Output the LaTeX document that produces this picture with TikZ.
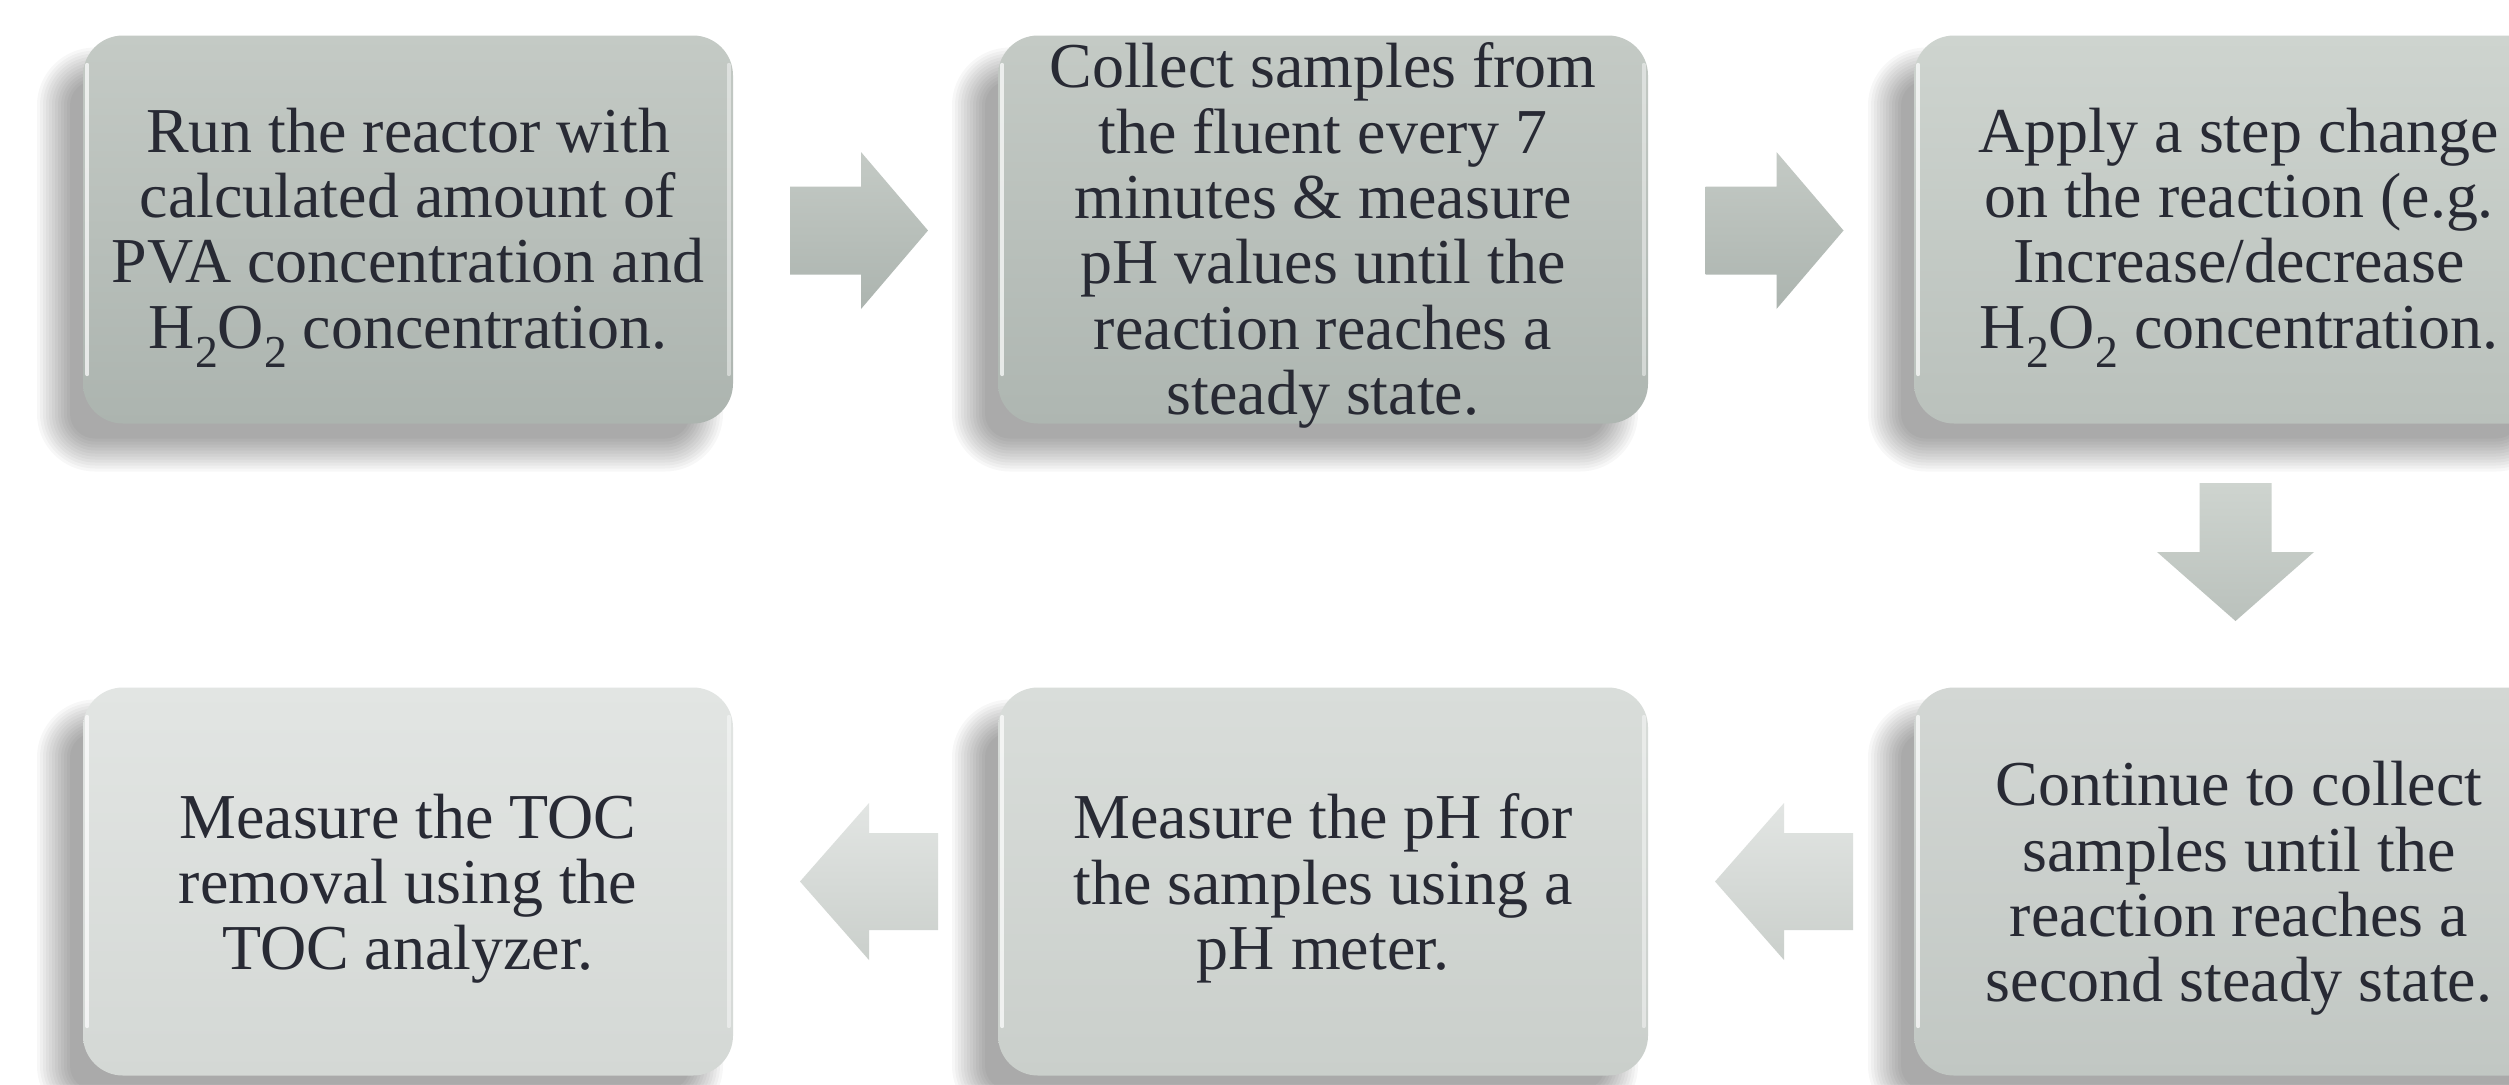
\documentclass[tikz,border=0pt]{standalone}
\usepackage{fontspec}
\setmainfont{Liberation Serif}

\definecolor{ink}{RGB}{40,42,52}
\definecolor{aT}{RGB}{196,202,197}\definecolor{aB}{RGB}{172,180,175}
\definecolor{bT}{RGB}{196,202,197}\definecolor{bB}{RGB}{174,182,177}
\definecolor{cT}{RGB}{206,212,207}\definecolor{cB}{RGB}{186,193,188}
\definecolor{dT}{RGB}{226,229,227}\definecolor{dB}{RGB}{212,216,213}
\definecolor{eT}{RGB}{217,221,218}\definecolor{eB}{RGB}{202,207,203}
\definecolor{fT}{RGB}{211,215,212}\definecolor{fB}{RGB}{193,199,195}

% chemical subscript, set large and low
\newcommand{\chsub}[1]{\raisebox{-0.3em}{\fontsize{13}{13}\selectfont #1}}

\tikzset{
  stepbox/.style n args={2}{
    rounded corners=0.4cm, minimum width=6.5cm, minimum height=3.88cm,
    inner sep=0pt, top color=#1, bottom color=#2},
  steptext/.style={align=center, text=ink, inner sep=0pt,
    font=\fontsize{18.2}{18.6}\selectfont},
  softshadow/.style={black, fill opacity=0.03},
  bevel/.style={white, line width=1.1pt, opacity=0.7, line cap=round},
  blockarrow/.style n args={2}{top color=#1, bottom color=#2, draw=none},
}

\begin{document}
\begin{tikzpicture}
\clip (0,0) rectangle (25.09,10.84);
\fill[white] (0,0) rectangle (25.09,10.84);

% box centres
\coordinate (c1) at (4.08,8.545);
\coordinate (c2) at (13.23,8.545);
\coordinate (c3) at (22.39,8.545);
\coordinate (c4) at (4.08,2.025);
\coordinate (c5) at (13.23,2.025);
\coordinate (c6) at (22.39,2.025);

% soft drop shadows, built from stacked translucent layers
\foreach \c in {c1,c2,c3,c4,c5,c6}{
  \foreach \k in {0,...,11}{
    \pgfmathsetmacro\r{0.18-0.03*\k}
    \pgfmathsetmacro\rc{0.4+\r}
    \fill[softshadow, rounded corners=\rc cm]
      ([shift={(-0.28-3.25-\r,-0.3-1.94-\r)}]\c) rectangle
      ([shift={(-0.28+3.25+\r,-0.3+1.94+\r)}]\c);
  }
}

% process step boxes
\node[stepbox={aT}{aB}] (b1) at (c1) {};
\node[stepbox={bT}{bB}] (b2) at (c2) {};
\node[stepbox={cT}{cB}] (b3) at (c3) {};
\node[stepbox={dT}{dB}] (b4) at (c4) {};
\node[stepbox={eT}{eB}] (b5) at (c5) {};
\node[stepbox={fT}{fB}] (b6) at (c6) {};

% light bevel along the side edges
\foreach \n in {b1,b2,b3,b4,b5,b6}{
  \draw[bevel] ([xshift=0.05cm,yshift=-0.3cm]\n.north west) -- ([xshift=0.05cm,yshift=0.5cm]\n.south west);
  \draw[bevel, opacity=0.45] ([xshift=-0.05cm,yshift=-0.3cm]\n.north east) -- ([xshift=-0.05cm,yshift=0.5cm]\n.south east);
}

% step texts
\node[steptext] (t1) at ([yshift=-0.08cm]b1.center)
  {Run the reactor with\\calculated amount of\\PVA concentration and\\H\chsub{2}O\chsub{2} concentration.};
\node[steptext] (t2) at ([yshift=-0.06cm]b2.center)
  {Collect samples from\\the fluent every 7\\minutes \& measure\\pH values until the\\reaction reaches a\\steady state.};
\node[steptext] (t3) at ([yshift=-0.08cm]b3.center)
  {Apply a step change\\on the reaction (e.g.\\Increase/decrease\\H\chsub{2}O\chsub{2} concentration.};
\node[steptext] (t6) at ([yshift=-0.07cm]b6.center)
  {Continue to collect\\samples until the\\reaction reaches a\\second steady state.};
\node[steptext] (t5) at ([yshift=-0.07cm]b5.center)
  {Measure the pH for\\the samples using a\\pH meter.};
\node[steptext] (t4) at ([yshift=-0.07cm]b4.center)
  {Measure the TOC\\removal using the\\TOC analyzer.};

% block arrows between the steps
\path[blockarrow={aT}{aB}, shift={(8.59,8.535)}]
  (-0.69,0.44) -- (0.02,0.44) -- (0.02,0.785) -- (0.69,0) -- (0.02,-0.785) -- (0.02,-0.44) -- (-0.69,-0.44) -- cycle;
\path[blockarrow={aT}{aB}, shift={(17.745,8.535)}]
  (-0.69,0.44) -- (0.02,0.44) -- (0.02,0.785) -- (0.69,0) -- (0.02,-0.785) -- (0.02,-0.44) -- (-0.69,-0.44) -- cycle;
\path[blockarrow={cT}{cB}, shift={(22.355,5.32)}]
  (-0.36,0.69) -- (0.36,0.69) -- (0.36,0) -- (0.785,0) -- (0,-0.69) -- (-0.785,0) -- (-0.36,0) -- cycle;
\path[blockarrow={dT}{eB}, shift={(17.84,2.025)}]
  (0.69,0.485) -- (0,0.485) -- (0,0.785) -- (-0.69,0) -- (0,-0.785) -- (0,-0.485) -- (0.69,-0.485) -- cycle;
\path[blockarrow={dT}{eB}, shift={(8.69,2.025)}]
  (0.69,0.485) -- (0,0.485) -- (0,0.785) -- (-0.69,0) -- (0,-0.785) -- (0,-0.485) -- (0.69,-0.485) -- cycle;
\end{tikzpicture}
\end{document}
